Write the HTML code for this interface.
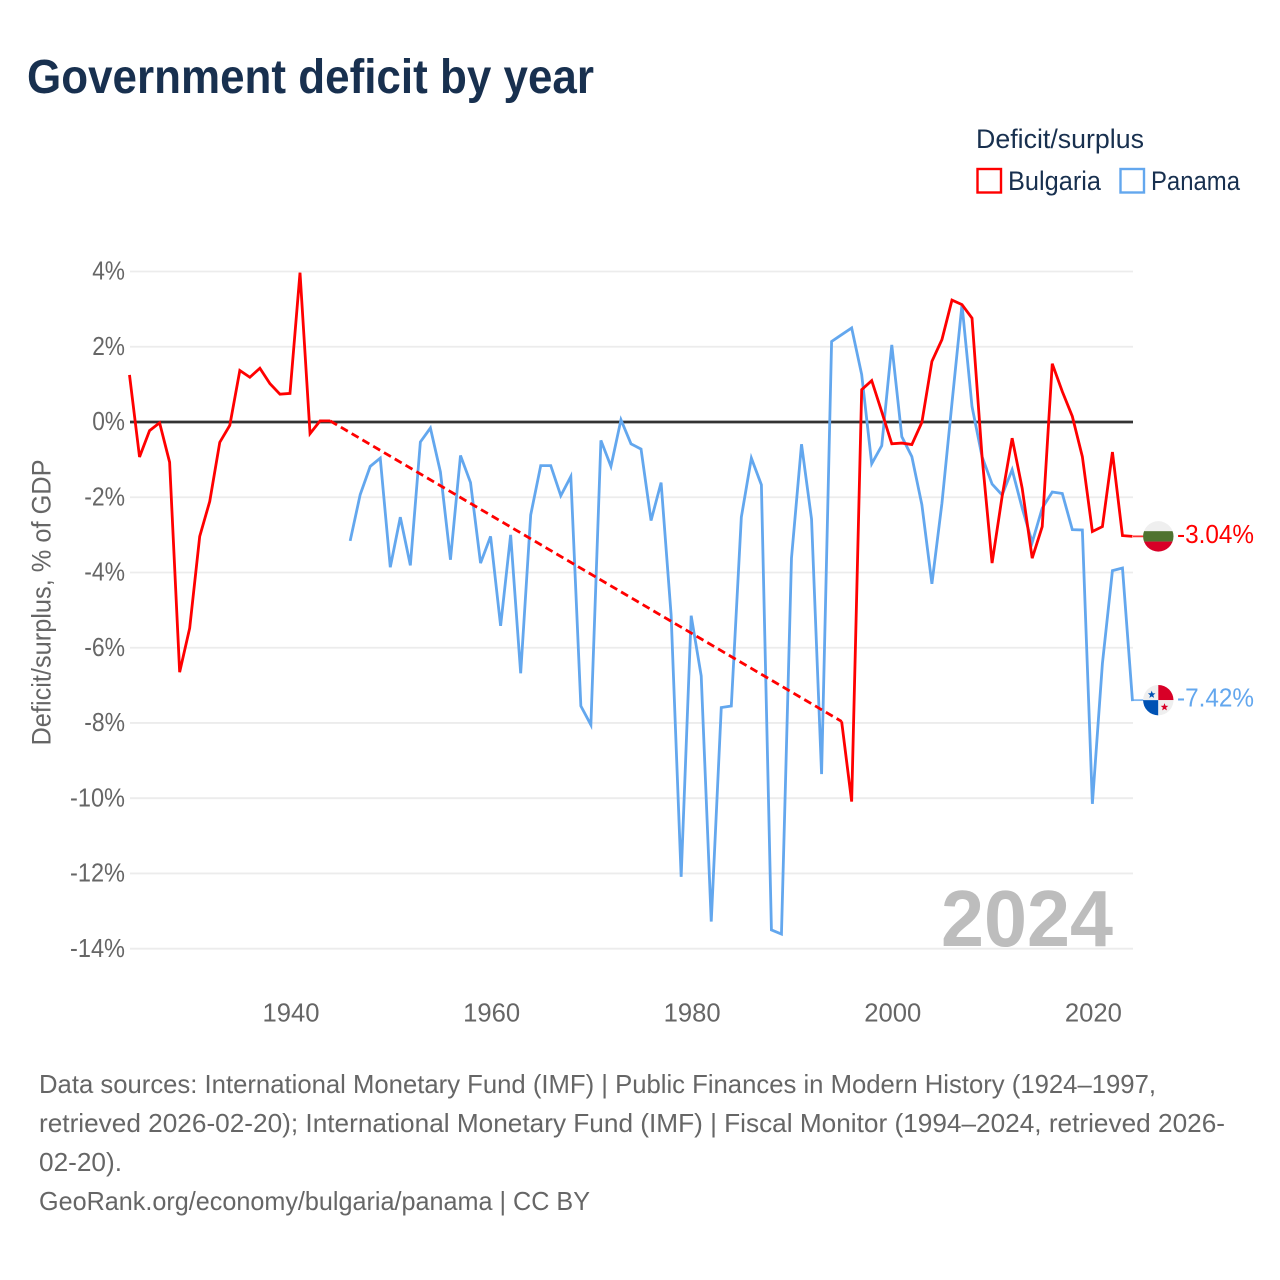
<!DOCTYPE html>
<html lang="en">
<head>
<meta charset="utf-8">
<title>Government deficit by year</title>
<style>
  html, body { margin: 0; padding: 0; background: #fff; }
  svg { display: block; }
  text { font-family: "Liberation Sans", sans-serif; }
</style>
</head>
<body>
<svg id="chart" xmlns="http://www.w3.org/2000/svg" width="1280" height="1280" viewBox="0 0 1280 1280">
  <rect width="1280" height="1280" fill="#fff"/>
  <text x="27" y="93" font-size="48" font-weight="700" fill="#18304f" textLength="567" lengthAdjust="spacingAndGlyphs">Government deficit by year</text>

  <g>
    <text x="976" y="148" font-size="27" fill="#18304f" textLength="168" lengthAdjust="spacingAndGlyphs">Deficit/surplus</text>
    <rect x="977.5" y="169" width="23.5" height="23.5" fill="none" stroke="#ff0000" stroke-width="2.4"/>
    <text x="1008" y="190" font-size="27" fill="#18304f" textLength="93" lengthAdjust="spacingAndGlyphs">Bulgaria</text>
    <rect x="1120.5" y="169" width="23.5" height="23.5" fill="none" stroke="#63a7ee" stroke-width="2.4"/>
    <text x="1151" y="190" font-size="27" fill="#18304f" textLength="89" lengthAdjust="spacingAndGlyphs">Panama</text>
  </g>

  <text transform="translate(50.5,602.5) rotate(-90)" text-anchor="middle" font-size="26.5" fill="#666" textLength="286" lengthAdjust="spacingAndGlyphs">Deficit/surplus, % of GDP</text>

  <g id="grid"></g>
  <g id="yLabels"></g>
  <g id="xLabels"></g>

  <text x="941" y="946" font-size="80" font-weight="700" fill="#bdbdbd" textLength="172" lengthAdjust="spacingAndGlyphs">2024</text>

  <g id="series"></g>

  <clipPath id="flagClipBg"><circle id="clipBg" cx="1158.3" cy="536" r="15.2"/></clipPath>
  <clipPath id="flagClipPa"><circle id="clipPa" cx="1158.3" cy="700" r="15.2"/></clipPath>
  <g id="flagBg" clip-path="url(#flagClipBg)"></g>
  <g id="flagPa" clip-path="url(#flagClipPa)"></g>
  <g id="endLabels"></g>

  <g font-size="26" fill="#666">
    <text x="39" y="1093" textLength="1117" lengthAdjust="spacingAndGlyphs">Data sources: International Monetary Fund (IMF) | Public Finances in Modern History (1924–1997,</text>
    <text x="39" y="1132" textLength="1186" lengthAdjust="spacingAndGlyphs">retrieved 2026-02-20); International Monetary Fund (IMF) | Fiscal Monitor (1994–2024, retrieved 2026-</text>
    <text x="39" y="1171" textLength="83" lengthAdjust="spacingAndGlyphs">02-20).</text>
    <text x="39" y="1210" textLength="551" lengthAdjust="spacingAndGlyphs">GeoRank.org/economy/bulgaria/panama | CC BY</text>
  </g>
</svg>

<script>
const firstYear = 1924;
const yTickValues = [4, 2, 0, -2, -4, -6, -8, -10, -12, -14];
const xTickValues = [1940, 1960, 1980, 2000, 2020];

const bulgariaEarly = [1.25, -0.93, -0.23, -0.02, -1.07, -6.65, -5.48, -3.04, -2.11, -0.54, -0.09, 1.37, 1.19, 1.43, 1.02, 0.74, 0.76, 3.97, -0.31, 0.03, 0.03];
const bulgariaLateStart = 1995;
const bulgariaLate = [-7.96, -10.09, 0.86, 1.10, 0.27, -0.58, -0.56, -0.60, -0.01, 1.61, 2.19, 3.24, 3.12, 2.76, -0.92, -3.75, -1.98, -0.43, -1.76, -3.62, -2.78, 1.55, 0.81, 0.15, -0.92, -2.91, -2.78, -0.80, -3.02, -3.04];

const panamaStart = 1946;
const panamaValues = [-3.16, -1.93, -1.18, -0.96, -3.86, -2.53, -3.81, -0.53, -0.16, -1.33, -3.66, -0.89, -1.61, -3.75, -3.04, -5.42, -3.00, -6.68, -2.47, -1.16, -1.16, -1.96, -1.45, -7.55, -8.05, -0.49, -1.18, 0.06, -0.58, -0.72, -2.62, -1.61, -5.13, -12.09, -5.15, -6.75, -13.28, -7.59, -7.55, -2.53, -0.96, -1.67, -13.50, -13.61, -3.62, -0.59, -2.58, -9.36, 2.14, 2.32, 2.50, 1.26, -1.11, -0.63, 2.05, -0.39, -0.92, -2.20, -4.30, -2.16, 0.50, 3.12, 0.41, -0.92, -1.65, -1.94, -1.27, -2.29, -3.20, -2.29, -1.86, -1.90, -2.86, -2.87, -10.15, -6.42, -3.95, -3.88, -7.42];

const bulgariaLabel = "-3.04%";
const panamaLabel = "-7.42%";

const SVGNS = "http://www.w3.org/2000/svg";
const xScale = function (year) { return 129.5 + (year - firstYear) * 10.03; };
const yScale = function (value) { return 422 - value * 37.62; };

function make(tag, parent, attrs, content) {
  const el = document.createElementNS(SVGNS, tag);
  for (const k in attrs) el.setAttribute(k, attrs[k]);
  if (content !== undefined) el.textContent = content;
  parent.appendChild(el);
  return el;
}
function pointsFrom(values, startYear) {
  return values.map(function (v, i) { return xScale(startYear + i).toFixed(2) + "," + yScale(v).toFixed(2); }).join(" ");
}

const grid = document.getElementById("grid");
const yLabels = document.getElementById("yLabels");
const xLabels = document.getElementById("xLabels");
const series = document.getElementById("series");
const endLabels = document.getElementById("endLabels");

yTickValues.forEach(function (v) {
  const line = make("line", grid, { x1: 130, x2: 1133, y1: yScale(v), y2: yScale(v), stroke: "#ececec", "stroke-width": 1.8 });
  
  
  const text = make("text", yLabels, { x: 125, y: yScale(v) + 8.2, "text-anchor": "end", "font-size": 26, fill: "#666", textLength: 14.2 * String(v).replace("-", "").length + 18.6 + (v < 0 ? 8 : 0), lengthAdjust: "spacingAndGlyphs" }, v + "%");
  
  
});

xTickValues.forEach(function (year) {
  const text = make("text", xLabels, { x: xScale(year) + 1, y: 1021.5, "text-anchor": "middle", "font-size": 26, fill: "#666", textLength: 57, lengthAdjust: "spacingAndGlyphs" }, String(year));
  
  
});

const zeroLine = make("line", grid, { x1: 130, x2: 1133, y1: yScale(0), y2: yScale(0), stroke: "#333", "stroke-width": 2.8 });



const lineBase = { fill: "none", "stroke-width": 2.8, "stroke-linejoin": "miter" };

const panamaLine = make("polyline", series, Object.assign({ points: pointsFrom(panamaValues, panamaStart), stroke: "#63a7ee" }, lineBase));



const bulgariaLine1 = make("polyline", series, Object.assign({ points: pointsFrom(bulgariaEarly, firstYear), stroke: "#ff0000" }, lineBase));



const gapStartYear = firstYear + bulgariaEarly.length - 1;
const bulgariaGap = make("line", series, { x1: xScale(gapStartYear), y1: yScale(bulgariaEarly[bulgariaEarly.length - 1]), x2: xScale(bulgariaLateStart), y2: yScale(bulgariaLate[0]), stroke: "#ff0000", "stroke-width": 2.8, "stroke-dasharray": "8 4.5" });



const bulgariaLine2 = make("polyline", series, Object.assign({ points: pointsFrom(bulgariaLate, bulgariaLateStart), stroke: "#ff0000" }, lineBase));



const bgLast = bulgariaLate[bulgariaLate.length - 1];
const paLast = panamaValues[panamaValues.length - 1];
const bgY = yScale(bgLast);
const paY = yScale(paLast) - 1;

const bgConn = make("line", series, { x1: 1133, x2: 1144, y1: bgY, y2: bgY, stroke: "#ff0000", "stroke-width": 1.8, opacity: 0.8 });


const paConn = make("line", series, { x1: 1133, x2: 1144, y1: paY, y2: paY, stroke: "#63a7ee", "stroke-width": 1.8, opacity: 0.8 });



const bgLabel = make("text", endLabels, { x: 1177, y: bgY + 6.5, "font-size": 26, fill: "#ff0000", textLength: 77, lengthAdjust: "spacingAndGlyphs" }, bulgariaLabel);


const paLabelEl = make("text", endLabels, { x: 1177, y: paY + 6.5, "font-size": 26, fill: "#63a7ee", textLength: 77, lengthAdjust: "spacingAndGlyphs" }, panamaLabel);



document.getElementById("clipBg").setAttribute("cy", bgY);
document.getElementById("clipPa").setAttribute("cy", paY);

const fb = document.getElementById("flagBg");
const fx = 1143, fw = 31;
make("rect", fb, { x: fx, y: bgY - 16, width: fw, height: 11, fill: "#efefef" });
make("rect", fb, { x: fx, y: bgY - 5.2, width: fw, height: 10.4, fill: "#4f7330" });
make("rect", fb, { x: fx, y: bgY + 5.2, width: fw, height: 11, fill: "#d80027" });

const fp = document.getElementById("flagPa");
make("rect", fp, { x: fx, y: paY - 16, width: 15.3, height: 16, fill: "#efefef" });
make("rect", fp, { x: 1158.3, y: paY - 16, width: 16, height: 16, fill: "#d80027" });
make("rect", fp, { x: fx, y: paY, width: 15.3, height: 16, fill: "#0052b4" });
make("rect", fp, { x: 1158.3, y: paY, width: 16, height: 16, fill: "#efefef" });
function star(cx, cy, r, fill, parent) {
  const pts = [];
  for (let i = 0; i < 10; i++) {
    const a = -Math.PI / 2 + i * Math.PI / 5;
    const rad = i % 2 ? r * 0.42 : r;
    pts.push((cx + rad * Math.cos(a)).toFixed(2) + "," + (cy + rad * Math.sin(a)).toFixed(2));
  }
  return make("polygon", parent, { points: pts.join(" "), fill: fill });
}
star(1151.7, paY - 5.5, 4, "#0052b4", fp);
star(1164.5, paY + 7, 4, "#d80027", fp);
</script>
</body>
</html>
